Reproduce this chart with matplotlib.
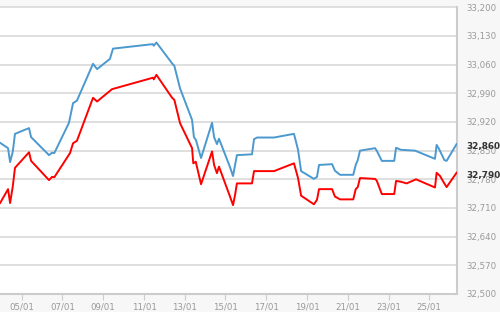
import datetime as dt
import matplotlib
matplotlib.use("Agg")
import matplotlib.pyplot as plt
import matplotlib.dates as mdates
from matplotlib.ticker import FuncFormatter, FixedLocator

# day of January (fractional) and rate values
blue_day = [3.94, 4.33, 4.43, 4.56, 4.67, 5.36, 5.46, 6.34, 6.49, 6.60, 7.32, 7.52, 7.71,
            8.50, 8.70, 9.33, 9.48, 11.43, 11.48, 11.61, 12.38, 12.49, 12.77, 13.36, 13.45,
            13.55, 13.80, 14.34, 14.44, 14.58, 14.68, 15.22, 15.37, 15.47, 15.56, 16.30,
            16.40, 16.55, 17.38, 18.36, 18.56, 18.71, 19.34, 19.49, 19.59, 20.23, 20.37,
            20.62, 21.27, 21.39, 21.49, 21.60, 22.34, 22.42, 22.67, 23.28, 23.37, 23.61,
            24.30, 25.28, 25.36, 25.49, 25.74, 25.85, 26.34]
blue_val = [32869, 32856, 32822, 32847, 32891, 32905, 32883, 32839, 32845, 32844, 32918,
            32966, 32972, 33062, 33049, 33074, 33099, 33110, 33106, 33114, 33063, 33057,
            33002, 32925, 32883, 32876, 32832, 32918, 32883, 32866, 32879, 32810, 32788,
            32815, 32839, 32841, 32878, 32882, 32882, 32891, 32852, 32800, 32781, 32786,
            32815, 32817, 32801, 32791, 32791, 32815, 32827, 32850, 32856, 32850, 32825,
            32825, 32857, 32852, 32850, 32830, 32864, 32853, 32827, 32825, 32866]

red_day = [3.94, 4.33, 4.43, 4.56, 4.67, 5.36, 5.46, 6.34, 6.49, 6.60, 7.37, 7.52, 7.71,
           8.50, 8.70, 9.43, 11.44, 11.48, 11.61, 12.38, 12.49, 12.77, 13.36, 13.42, 13.54,
           13.80, 14.34, 14.44, 14.58, 14.68, 15.22, 15.37, 15.47, 15.56, 16.30, 16.40,
           17.38, 18.36, 18.56, 18.71, 19.34, 19.49, 19.59, 20.23, 20.37, 20.62, 21.27,
           21.39, 21.49, 21.60, 22.34, 22.42, 22.67, 23.28, 23.37, 23.61, 23.89, 24.35,
           25.28, 25.36, 25.53, 25.69, 25.85, 26.34]
red_val = [32722, 32756, 32722, 32762, 32808, 32846, 32825, 32778, 32786, 32785, 32844,
           32868, 32874, 32979, 32970, 33000, 33028, 33024, 33035, 32979, 32974, 32917,
           32856, 32819, 32823, 32768, 32848, 32815, 32795, 32811, 32738, 32717, 32742,
           32770, 32770, 32800, 32800, 32819, 32783, 32740, 32719, 32730, 32756, 32756,
           32738, 32731, 32731, 32756, 32761, 32783, 32781, 32777, 32744, 32744, 32776,
           32774, 32770, 32780, 32760, 32796, 32788, 32774, 32761, 32796]

y_ticks = [32500, 32570, 32640, 32710, 32780, 32850, 32920, 32990, 33060, 33130, 33200]
last_labels = [("32,860", 32860), ("32,790", 32790)]

base = dt.datetime(2025, 1, 1)
to_dt = lambda days: [base + dt.timedelta(days=d - 1) for d in days]

fig = plt.figure(figsize=(5, 3.12), dpi=100, facecolor="#f7f7f7")
ax = fig.add_axes([0, 0.0577, 0.914, 0.919], facecolor="white")

ax.plot(to_dt(blue_day), blue_val, color="#4b99cf", lw=1.4, zorder=3)
ax.plot(to_dt(red_day), red_val, color="#ff0000", lw=1.4, zorder=3)

ax.set_ylim(y_ticks[0], y_ticks[-1])
ax.set_xlim(base + dt.timedelta(days=2.935), base + dt.timedelta(days=25.36))
ax.yaxis.set_major_locator(FixedLocator(y_ticks))
ax.yaxis.set_major_formatter(FuncFormatter(lambda v, p: f"{v:,.0f}"))
ax.yaxis.tick_right()
ax.grid(axis="y", color="#d9d9d9", lw=1.2, clip_on=False)
ax.set_axisbelow(True)

ax.xaxis.set_major_locator(mdates.DayLocator(bymonthday=range(1, 32, 2)))
ax.xaxis.set_major_formatter(mdates.DateFormatter("%d/%m"))

ax.tick_params(axis="y", length=0, pad=7, labelsize=6.2, labelcolor="#999999")
ax.tick_params(axis="x", length=4, width=0.8, color="#cccccc", pad=2,
               labelsize=6.2, labelcolor="#999999")

for s in ["left", "top"]:
    ax.spines[s].set_visible(False)
for s in ["right", "bottom"]:
    ax.spines[s].set_color("#cccccc")
    ax.spines[s].set_linewidth(1.5)

for text, val in last_labels:
    ax.annotate(text, xy=(1, val), xycoords=("axes fraction", "data"),
                xytext=(7, 0), textcoords="offset points", ha="left", va="center",
                fontsize=6.4, color="#333333", fontweight="bold", zorder=5)

fig.savefig("out.png", dpi=100, facecolor=fig.get_facecolor())
